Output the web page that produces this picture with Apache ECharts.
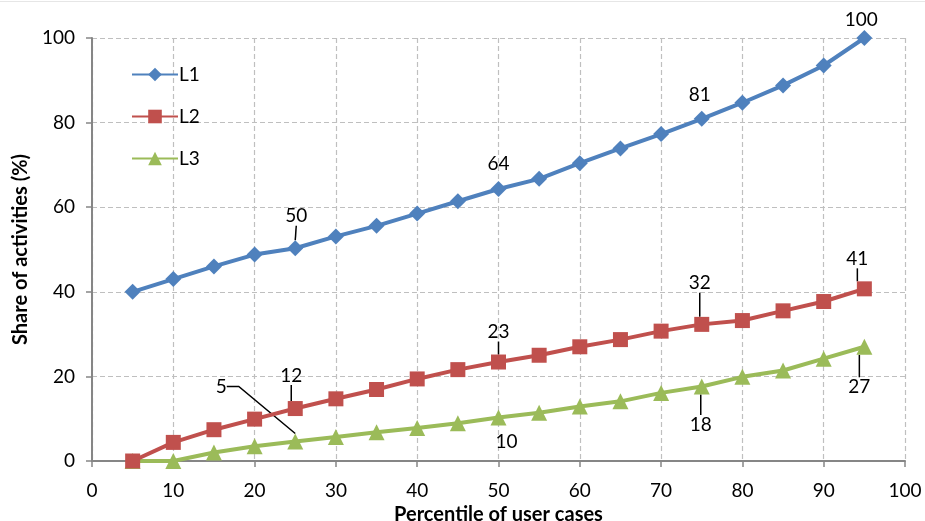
<!DOCTYPE html>
<html>
<head>
<meta charset="utf-8">
<script src="https://cdn.jsdelivr.net/npm/echarts@6/dist/echarts.min.js"></script>
<style>html,body{margin:0;padding:0;background:#fff}#c{width:925px;height:521px}</style>
</head>
<body>
<div id="c"></div>
<script>
const percentiles = [5,10,15,20,25,30,35,40,45,50,55,60,65,70,75,80,85,90,95];
const seriesNames = ['L1','L2','L3'];
const l1 = [40.0,43.0,46.0,48.8,50.3,53.1,55.6,58.5,61.4,64.3,66.7,70.4,73.9,77.3,80.9,84.7,88.8,93.5,100.0];
const l2 = [0,4.4,7.4,9.9,12.4,14.7,16.9,19.4,21.6,23.4,25.0,27.0,28.7,30.7,32.3,33.2,35.5,37.7,40.7];
const l3 = [0,0,2.0,3.5,4.6,5.7,6.8,7.8,8.9,10.3,11.4,12.9,14.1,16.1,17.6,19.9,21.4,24.2,27.0];
const xTicks = [0,10,20,30,40,50,60,70,80,90,100];
const yTicks = [0,20,40,60,80,100];
// annotated percentiles per series
const annotated = [[25,50,75,95],[25,50,75,95],[25,50,75,95]];

// label placement (style): [dx, dy, showLine]
const labelPlace = [
  {25:[1,-32,true],50:[0,-25,false],75:[-2,-24,false],95:[-3,-18,false]},
  {25:[-4,-33,true],50:[0,-30,true],75:[-2,-41,true],95:[-7,-30,true]},
  {25:[-74,-55,true],50:[8,24,false],75:[-1,38,true],95:[-5,40,true]}
];

const colors = ['#4F81BD','#C0504D','#9BBB59'];
const symbols = ['diamond','rect','triangle'];
const symbolSizes = [16,15,16];
const FONT = 'Lato, "Open Sans", sans-serif';
const values = [l1,l2,l3];

function buildData(si){
  return percentiles.map((p,i)=>{
    const v = values[si][i];
    if (annotated[si].indexOf(p) >= 0) {
      const pl = labelPlace[si][p];
      return {
        value:[p,v],
        label:{show:true},
        labelLine:{show:pl[2], lineStyle:{color:'#000',width:1.5}, length2: (si===2 && p===25)?12:0}
      };
    }
    return {value:[p,v]};
  });
}

const chart = echarts.init(document.getElementById('c'));
chart.setOption({
  animation:false,
  textStyle:{fontFamily:FONT},
  graphic:[{type:'rect',left:0,top:1,shape:{width:925,height:1},style:{fill:'#E6E6E6'},silent:true}],
  grid:{left:92,right:20,top:38,bottom:60,containLabel:false,outerBoundsMode:'none'},
  legend:{
    orient:'vertical', left:126, top:60,
    itemWidth:46, itemHeight:17, itemGap:23,
    textStyle:{fontSize:19,color:'#000',fontFamily:FONT,padding:[0,0,0,-4]},
    data:seriesNames
  },
  xAxis:{
    type:'value', min:0, max:100, interval:10,
    name:'Percentile of user cases', nameLocation:'middle', nameGap:37,
    nameTextStyle:{fontSize:20,fontWeight:'bold',color:'#000',fontFamily:FONT},
    axisLine:{lineStyle:{color:'#868686',width:2}},
    axisTick:{show:true,length:6,lineStyle:{color:'#868686',width:1.5}},
    axisLabel:{fontSize:19,color:'#000',margin:20,fontFamily:FONT},
    splitLine:{show:true,lineStyle:{color:'#BFBFBF',type:[5,3],width:1.2}}
  },
  yAxis:{
    type:'value', min:0, max:100, interval:20,
    name:'Share of activities (%)', nameLocation:'middle', nameGap:61, nameRotate:90,
    nameTextStyle:{fontSize:20,fontWeight:'bold',color:'#000',fontFamily:FONT},
    axisLine:{show:true,lineStyle:{color:'#868686',width:2}},
    axisTick:{show:true,length:6,lineStyle:{color:'#868686',width:1.5}},
    axisLabel:{fontSize:19,color:'#000',margin:17,fontFamily:FONT},
    splitLine:{show:true,lineStyle:{color:'#BFBFBF',type:[5,3],width:1.2}}
  },
  series: seriesNames.map((n,si)=>({
    name:n, type:'line',
    data:buildData(si),
    symbol:symbols[si], symbolSize:symbolSizes[si],
    lineStyle:{color:colors[si],width:4},
    itemStyle:{color:colors[si]},
    z: 3-si,
    label:{show:false, position:'inside', fontSize:19, color:'#000', fontFamily:FONT,
      formatter:(p)=>String(Math.round(p.value[1]))},
    labelLayout:(params)=>{
      const p = percentiles[params.dataIndex];
      const pl = labelPlace[si][p];
      if (!pl) return {};
      return {dx:pl[0], dy:pl[1], hideOverlap:false};
    }
  }))
});
</script>
</body>
</html>
